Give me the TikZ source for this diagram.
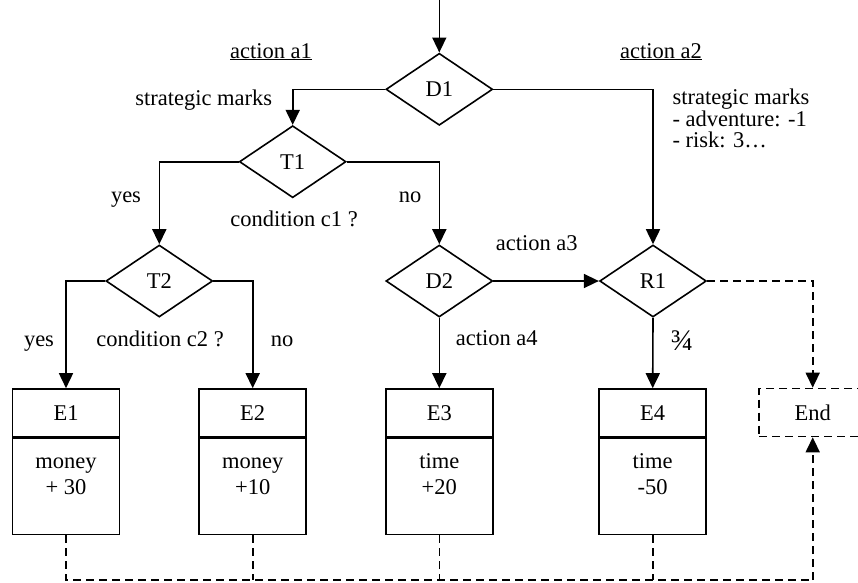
\documentclass[tikz,border=0pt]{standalone}
\usepackage{fontspec}
\setmainfont{Liberation Serif}
\usetikzlibrary{shapes.geometric,arrows.meta,positioning}

\begin{document}
\begin{tikzpicture}[x=1pt,y=-1pt,line width=1.6pt,
  font=\fontsize{22.5}{21.5}\selectfont,
  >={Triangle[length=15pt,width=14pt]},
  test/.style={draw,diamond,inner sep=0pt,minimum width=106.7pt,minimum height=72pt},
  head/.style={draw,rectangle,minimum width=107pt,minimum height=48pt,inner sep=0pt},
  body/.style={draw,rectangle,minimum width=107pt,inner xsep=0pt,inner ysep=0pt,align=center,
    text height=56pt,text depth=40pt,font=\fontsize{22.5}{26}\selectfont,below=0pt of #1},
  bye/.style={dash pattern=on 8pt off 5pt},
  lbl/.style={anchor=base,inner sep=0pt}]
\useasboundingbox (0,0) rectangle (858,582);
\clip (0,0) rectangle (858,582);

% decisions and tests
\coordinate (in) at (439.3,0);
\node[test] (D1) at (439.3,89.3) {D1};
\node[test] (T1) at (292.7,161.7) {T1};
\node[test] (T2) at (159.3,281) {T2};
\node[test] (D2) at (439.3,281) {D2};
\node[test] (R1) at (653,281) {R1};

% end states
\node[head] (E1) at (66,413) {E1};
\node[body=E1] (E1v) {money\\+ 30};
\node[head] (E2) at (252.7,413) {E2};
\node[body=E2] (E2v) {money\\+10};
\node[head] (E3) at (439.3,413) {E3};
\node[body=E3] (E3v) {time\\+20};
\node[head] (E4) at (652.7,413) {E4};
\node[body=E4] (E4v) {time\\-50};
\node[head,bye] (End) at (812.7,412.5) {End};

% labels
\node[lbl] (la1) at (271,58) {\underline{action a1}};
\node[lbl] (la2) at (661,58) {\underline{action a2}};
\node[lbl,anchor=base east] (sm1) at (273,105) {strategic marks};
\node[lbl,anchor=base west,align=left] (sm2) at (671.7,147.5) {strategic marks\\- adventure: -1\\- risk: 3…};
\node[lbl] (y1) at (126,202) {yes};
\node[lbl] (c1) at (294,226) {condition c1 ?};
\node[lbl] (n1) at (410,202) {no};
\node[lbl] (y2) at (39,346) {yes};
\node[lbl] (c2) at (160,346) {condition c2 ?};
\node[lbl] (n2) at (282,346) {no};
\node[lbl] (la3) at (536.7,250) {action a3};
\node[lbl] (la4) at (496.7,345) {action a4};
\node[lbl,font=\fontsize{30}{30}\selectfont] (p34) at (682,350) {¾};

% connectors
\draw[->] (in) -- (D1);
\draw[->] (D1.west) -| (T1.north);
\draw[->] (D1.east) -| (R1.north);
\draw[->] (T1.west) -| (T2.north);
\draw[->] (T1.east) -| (D2.north);
\draw[->] (T2.west) -| (E1.north);
\draw[->] (T2.east) -| (E2.north);
\draw[->] (D2.south) -- (E3.north);
\draw[->] (D2.east) -- (R1.west);
\draw[->] (R1.south) -- (E4.north);
\draw[bye,->] (R1.east) -| (End.north);

\coordinate (loop) at (812.7,580);
\draw[bye] (E1v.south) |- (loop);
\draw[bye] (E2v.south) -- (E2v.south |- loop);
\draw[bye] (E3v.south) -- (E3v.south |- loop);
\draw[bye] (E4v.south) -- (E4v.south |- loop);
\draw[bye,->] (loop) -- (End.south);
\end{tikzpicture}
\end{document}
